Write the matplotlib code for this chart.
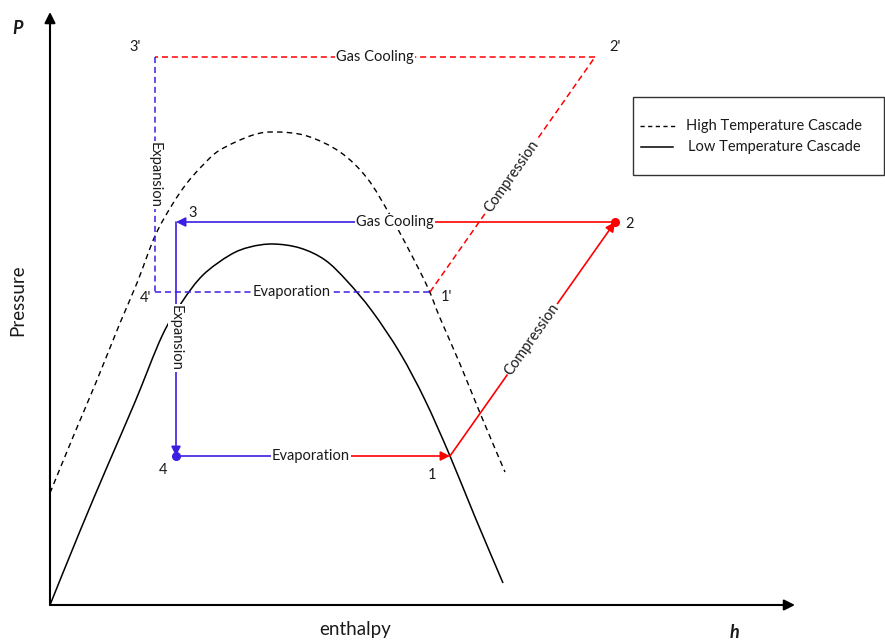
import matplotlib
matplotlib.use("Agg")
import matplotlib.pyplot as plt
from matplotlib.patches import Rectangle, PathPatch
from matplotlib.path import Path

plt.rcParams['font.family'] = ['Lato', 'DejaVu Sans']

# Saturation domes (h, P) in arbitrary units
low_dome_h = [0, 30, 57, 85, 112, 132, 153, 180, 200, 223, 250, 275, 297, 322,
              350, 375, 400, 425, 453]
low_dome_p = [0, 74, 138, 203, 269, 303, 330, 350, 358, 361, 357, 345, 324, 294,
              252, 205, 149, 88, 22]

high_dome_h = [0, 23, 47, 70, 87, 105, 122, 137, 153, 170, 203, 227, 257, 290,
               317, 340, 360, 378, 390, 410, 430, 455]
high_dome_p = [112, 168, 225, 282, 322, 369, 400, 422, 440, 455, 470, 473, 469, 453,
               427, 390, 353, 317, 287, 241, 192, 133]

# Cycle state points: 1, 2, 3, 4
low_h = [400, 565, 126, 126]
low_p = [149, 383, 383, 149]
high_h = [380, 545, 105, 105]
high_p = [313, 548, 548, 313]

BLUE = '#3a1fe3'
RED = '#ff0000'
TXT = '#1a1a1a'
FS = 10.5

fig = plt.figure(figsize=(8.85, 6.42), dpi=100)
ax = fig.add_axes([0, 0, 1, 1])
ax.set_xlim(-50, 835)
ax.set_ylim(-37, 605)
ax.axis('off')

# Axes with arrows
ax.annotate('', xy=(0, 593), xytext=(0, 0),
            arrowprops=dict(arrowstyle='-|>', lw=1.5, color='black',
                            mutation_scale=16, shrinkA=0, shrinkB=0))
ax.annotate('', xy=(745, 0), xytext=(0, 0),
            arrowprops=dict(arrowstyle='-|>', lw=1.5, color='black',
                            mutation_scale=16, shrinkA=0, shrinkB=0))


def smooth_path(xs, ys):
    """Cubic Bezier path through the given points (Catmull-Rom tangents)."""
    pts = list(zip(xs, ys))
    n = len(pts)
    verts = [pts[0]]
    codes = [Path.MOVETO]
    for i in range(n - 1):
        p0 = pts[max(i - 1, 0)]
        p1 = pts[i]
        p2 = pts[i + 1]
        p3 = pts[min(i + 2, n - 1)]
        c1 = (p1[0] + (p2[0] - p0[0]) / 6, p1[1] + (p2[1] - p0[1]) / 6)
        c2 = (p2[0] - (p3[0] - p1[0]) / 6, p2[1] - (p3[1] - p1[1]) / 6)
        verts += [c1, c2, p2]
        codes += [Path.CURVE4] * 3
    return Path(verts, codes)


# Domes
ax.add_patch(PathPatch(smooth_path(low_dome_h, low_dome_p), facecolor='none',
                       edgecolor='black', lw=1.1, zorder=2))
ax.add_patch(PathPatch(smooth_path(high_dome_h, high_dome_p), facecolor='none',
                       edgecolor='black', lw=1.0, ls=(0, (4, 3)), zorder=2))

DASH = (0, (4, 2.5))


def seg(p, q, color, ls='-', head=False, lw=1.2):
    if head:
        ax.annotate('', xy=q, xytext=p,
                    arrowprops=dict(arrowstyle='-|>', lw=lw, color=color,
                                    mutation_scale=14, shrinkA=0, shrinkB=0),
                    zorder=3)
    else:
        ax.plot([p[0], q[0]], [p[1], q[1]], color=color, lw=lw, ls=ls, zorder=3)


def label(x, y, s, rot=0):
    ax.text(x, y, s, fontsize=FS, color=TXT, ha='center', va='center',
            rotation=rot, rotation_mode='anchor', zorder=5,
            bbox=dict(facecolor='white', edgecolor='none', pad=0.6))


# Low temperature cascade (solid)
s1 = (low_h[0], low_p[0])
s2 = (low_h[1], low_p[1])
s3 = (low_h[2], low_p[2])
s4 = (low_h[3], low_p[3])
evap_mid = (261, low_p[0])
cool_mid = (345, low_p[1])
seg(s4, evap_mid, BLUE)
seg(evap_mid, s1, RED, head=True)
seg(s1, s2, RED, head=True)
seg(s2, cool_mid, RED)
seg(cool_mid, s3, BLUE, head=True)
seg(s3, s4, BLUE, head=True)
ax.plot(*s2, 'o', color=RED, ms=5.5, zorder=4)
ax.plot(*s4, 'o', color=BLUE, ms=5.5, zorder=4)

label(*evap_mid, 'Evaporation')
label(*cool_mid, 'Gas Cooling')
label(482, 266, 'Compression', rot=54.9)
label(126, 267, 'Expansion', rot=-90)

# High temperature cascade (dashed)
t1 = (high_h[0], high_p[0])
t2 = (high_h[1], high_p[1])
t3 = (high_h[2], high_p[2])
t4 = (high_h[3], high_p[3])
seg(t4, t1, BLUE, ls=DASH, lw=1.1)
seg(t1, t2, RED, ls=DASH, lw=1.1)
seg(t2, t3, RED, ls=DASH, lw=1.1)
seg(t3, t4, BLUE, ls=DASH, lw=1.1)

label(242, high_p[0], 'Evaporation')
label(325, high_p[1], 'Gas Cooling')
label(462, 429, 'Compression', rot=55.1)
label(105, 430, 'Expansion', rot=-90)

# State labels
for x, y, s in [(85, 558, "3'"), (565, 558, "2'"), (143, 392, "3"), (580, 381, "2"),
                (95, 307, "4'"), (396, 308, "1'"), (113, 135, "4"), (382, 130, "1")]:
    ax.text(x, y, s, fontsize=FS, color=TXT, ha='center', va='center', zorder=5)

# Axis titles
ax.text(-32, 577, 'P', fontsize=13, fontweight='bold', fontstyle='italic',
        color=TXT, ha='center', va='center')
ax.text(-32, 305, 'Pressure', fontsize=13.5, color=TXT, rotation=90,
        ha='center', va='center')
ax.text(305, -25, 'enthalpy', fontsize=13.5, color=TXT, ha='center', va='center')
ax.text(685, -28, 'h', fontsize=13, fontweight='bold', fontstyle='italic',
        color=TXT, ha='center', va='center')

# Legend box
ax.add_patch(Rectangle((583, 430), 251, 78, facecolor='white',
                       edgecolor='#333333', lw=1.0, zorder=4))
ax.plot([590, 626], [479, 479], color='black', lw=1.0, ls=(0, (3, 2.5)), zorder=5)
ax.plot([591, 623], [458, 458], color='black', lw=1.1, zorder=5)
ax.text(636, 479, 'High Temperature Cascade', fontsize=FS, color=TXT,
        ha='left', va='center', zorder=6)
ax.text(638, 458, 'Low Temperature Cascade', fontsize=FS, color=TXT,
        ha='left', va='center', zorder=6)

fig.savefig('out.png', dpi=100)
